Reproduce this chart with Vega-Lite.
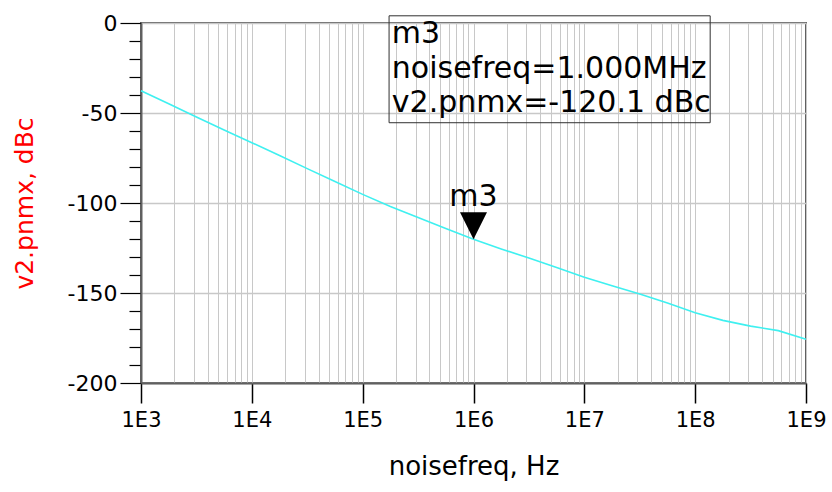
{
  "$schema": "https://vega.github.io/schema/vega-lite/v6.json",
  "width": 665,
  "height": 360,
  "padding": {"left": 141, "top": 23, "right": 26, "bottom": 109},
  "autosize": {"type": "none"},
  "background": "white",
  "config": {
    "view": {"stroke": "#606060", "strokeWidth": 2},
    "axis": {"labelFont": "DejaVu Sans", "titleFont": "DejaVu Sans"}
  },
  "datasets": {
    "trace": [
      {"freq": 1000, "pn": -37.6},
      {"freq": 1778, "pn": -44.9},
      {"freq": 3162, "pn": -52.2},
      {"freq": 5623, "pn": -59.4},
      {"freq": 10000, "pn": -66.5},
      {"freq": 17783, "pn": -73.6},
      {"freq": 31623, "pn": -80.9},
      {"freq": 56234, "pn": -88.1},
      {"freq": 100000, "pn": -95.2},
      {"freq": 177828, "pn": -101.9},
      {"freq": 316228, "pn": -108.1},
      {"freq": 562341, "pn": -114.2},
      {"freq": 1000000, "pn": -120.1},
      {"freq": 1778279, "pn": -125.5},
      {"freq": 3162278, "pn": -130.6},
      {"freq": 5623413, "pn": -135.8},
      {"freq": 10000000, "pn": -141.2},
      {"freq": 17782794, "pn": -146.0},
      {"freq": 31622777, "pn": -150.6},
      {"freq": 56234133, "pn": -155.6},
      {"freq": 100000000, "pn": -161.0},
      {"freq": 177827941, "pn": -165.2},
      {"freq": 316227766, "pn": -168.4},
      {"freq": 562341325, "pn": -170.9},
      {"freq": 1000000000, "pn": -175.7}
    ],
    "box": [{"freq": 173100, "freq2": 136600000, "pn": 4.0, "pn2": -55.4}],
    "legendText": [
      {"freq": 183200, "pn": -11.2, "label": "m3"},
      {"freq": 183200, "pn": -30.5, "label": "noisefreq=1.000MHz"},
      {"freq": 183200, "pn": -49.4, "label": "v2.pnmx=-120.1 dBc"}
    ],
    "marker": [{"freq": 1000000, "pn": -120.1, "label": "m3"}]
  },
  "encoding": {
    "x": {
      "field": "freq", "type": "quantitative",
      "scale": {"type": "log", "domain": [1000, 1000000000], "nice": false},
      "axis": {
        "title": "noisefreq, Hz",
        "titleFontSize": 26, "titleFontWeight": "normal", "titleColor": "black", "titlePadding": 23,
        "values": [1000,2000,3000,4000,5000,6000,7000,8000,9000,
                   10000,20000,30000,40000,50000,60000,70000,80000,90000,
                   100000,200000,300000,400000,500000,600000,700000,800000,900000,
                   1000000,2000000,3000000,4000000,5000000,6000000,7000000,8000000,9000000,
                   10000000,20000000,30000000,40000000,50000000,60000000,70000000,80000000,90000000,
                   100000000,200000000,300000000,400000000,500000000,600000000,700000000,800000000,900000000,
                   1000000000],
        "labelExpr": "indexof([1000,10000,100000,1000000,10000000,100000000,1000000000], datum.value) >= 0 ? '1E' + round(log(datum.value)/LN10) : ''",
        "labelFontSize": 21, "labelColor": "black", "labelPadding": 6,
        "labelOverlap": false, "labelFlush": false, "labelBound": false,
        "tickSize": 20, "tickColor": "black", "tickWidth": 1.5,
        "tickOpacity": {"condition": {"test": "indexof([1000,10000,100000,1000000,10000000,100000000,1000000000], datum.value) >= 0", "value": 1}, "value": 0},
        "grid": true, "gridColor": "#c8c8c8", "gridWidth": 1,
        "domainColor": "#606060", "domainWidth": 2
      }
    },
    "y": {
      "field": "pn", "type": "quantitative",
      "scale": {"domain": [-200, 0], "nice": false, "zero": false},
      "axis": {
        "title": "v2.pnmx, dBc",
        "titleFontSize": 25, "titleFontWeight": "normal", "titleColor": "#ff0000", "titlePadding": 30,
        "values": [-200,-190,-180,-170,-160,-150,-140,-130,-120,-110,-100,-90,-80,-70,-60,-50,-40,-30,-20,-10,0],
        "labelExpr": "datum.value % 50 == 0 ? '' + datum.value : ''",
        "labelFontSize": 22, "labelColor": "black", "labelPadding": 3,
        "labelOverlap": false, "labelFlush": false, "labelBound": false,
        "tickSize": {"condition": {"test": "datum.value % 50 == 0", "value": 21}, "value": 12},
        "tickColor": "black", "tickWidth": 1.2,
        "grid": true, "gridColor": "#c8c8c8", "gridWidth": 1.5,
        "gridOpacity": {"condition": {"test": "datum.value % 50 == 0", "value": 1}, "value": 0},
        "domainColor": "#606060", "domainWidth": 2
      }
    }
  },
  "layer": [
    {
      "data": {"name": "trace"},
      "mark": {"type": "line", "color": "#3ff0f0", "strokeWidth": 1.6, "interpolate": "linear"}
    },
    {
      "data": {"name": "box"},
      "mark": {"type": "rect", "fill": null, "fillOpacity": 0, "stroke": "#303030", "strokeWidth": 1},
      "encoding": {
        "x2": {"field": "freq2"},
        "y2": {"field": "pn2"}
      }
    },
    {
      "data": {"name": "legendText"},
      "mark": {"type": "text", "align": "left", "baseline": "alphabetic", "font": "DejaVu Sans", "fontSize": 30, "color": "black"},
      "encoding": {
        "text": {"field": "label"}
      }
    },
    {
      "data": {"name": "marker"},
      "mark": {"type": "point", "shape": "M -1 -2 L 1 -2 L 0 0 Z", "size": 729, "filled": true, "color": "black", "opacity": 1, "strokeWidth": 0}
    },
    {
      "data": {"name": "marker"},
      "mark": {"type": "text", "align": "center", "baseline": "alphabetic", "font": "DejaVu Sans", "fontSize": 30, "color": "black", "dy": -33},
      "encoding": {
        "text": {"field": "label"}
      }
    }
  ]
}
